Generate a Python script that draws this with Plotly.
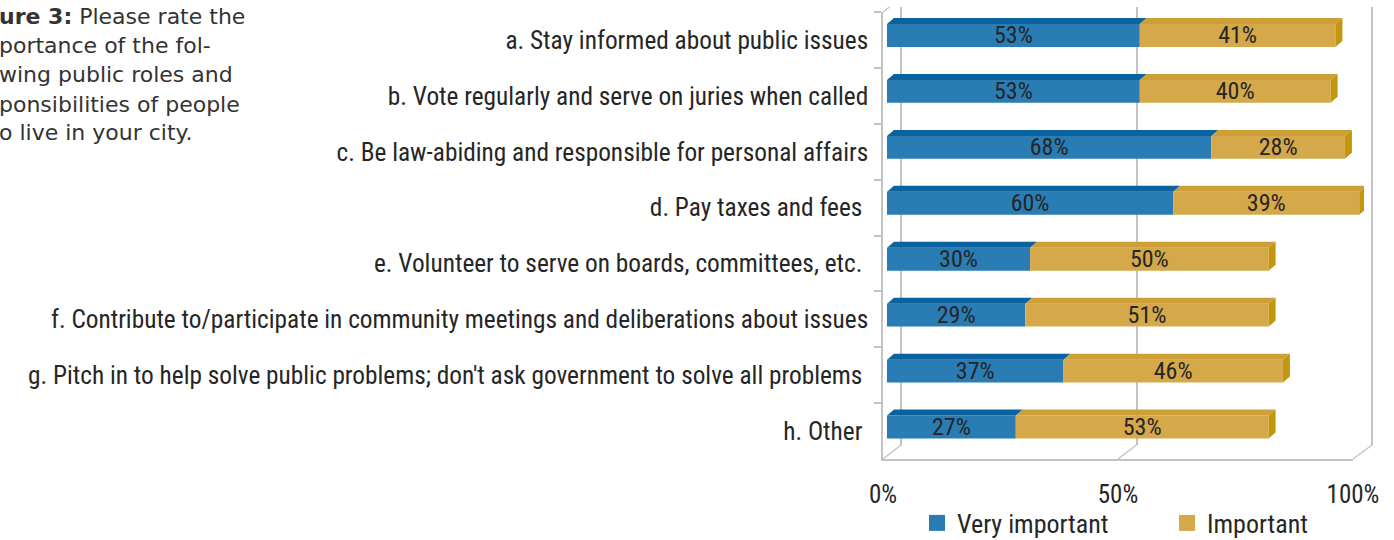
import numpy as np
import plotly.graph_objects as go

# ---- data -------------------------------------------------------------
categories = [
    "a. Stay informed about public issues",
    "b. Vote regularly and serve on juries when called",
    "c. Be law-abiding and responsible for personal affairs",
    "d. Pay taxes and fees\u00a0",
    "e. Volunteer to serve on boards, committees, etc.\u00a0",
    "f. Contribute to/participate in community meetings and deliberations about issues",
    "g. Pitch in to help solve public problems; don't ask government to solve all problems\u00a0",
    "h. Other\u00a0",
]
very_important = [53, 53, 68, 60, 30, 29, 37, 27]
important = [41, 40, 28, 39, 50, 51, 46, 53]
series_names = ["Very important", "Important"]
x_ticks = [0, 50, 100]
x_tick_labels = ["0%", "50%", "100%"]
title_bold = "ure 3:"
title_lines = [
    " Please rate the",
    "portance of the fol-",
    "wing public roles and",
    "ponsibilities of people",
    "o live in your city.",
]

# ---- styling ----------------------------------------------------------
W, H = 1394, 540
NARROW = "Roboto Condensed, Liberation Sans Narrow, DejaVu Sans Condensed, Arial Narrow, sans-serif"
TEXT = "#262626"
GRID = "#c3c3c3"
BLUE, BLUE_TOP = "#2a7db4", "#0a62a0"
GOLD, GOLD_TOP, GOLD_SIDE = "#d5a94a", "#cda037", "#c4960e"
series_colors = [BLUE, GOLD]


def px(x):
    return x / W


def py(y):
    return 1 - y / H


# pixel extents of the three layers of the pseudo-3D box
back_x, back_y = (901, 1372), (7, 445)      # back wall (grid)
bar_x, bar_y = (887, 1364), (7.5, 455)      # bars
front_x, front_y = (883, 1353), (12, 459)   # front floor / left wall

# the back-wall axis gets one unit of slack on each side so that the
# gridlines at 0% and 100% are kept
back_pad = 1.0
back_scale = (back_x[1] - back_x[0]) / 100
back_dom = (back_x[0] - back_pad * back_scale, back_x[1] + back_pad * back_scale)

n = len(categories)
pos = np.arange(n)
bar_w = 0.41
# depth of each bar, in data units of the bar axes
dx = 7 / ((bar_x[1] - bar_x[0]) / 100)
dy = 6 / ((bar_y[1] - bar_y[0]) / n)

fig = go.Figure()

# back wall: only gridlines
fig.add_trace(go.Scatter(x=x_ticks, y=[0] * len(x_ticks), xaxis="x", yaxis="y",
                         mode="markers", marker=dict(opacity=0), showlegend=False,
                         hoverinfo="skip"))

# front faces of the stacked bars
vi = np.array(very_important, dtype=float)
im = np.array(important, dtype=float)
for vals, base, name, col in [(vi, np.zeros(n), series_names[0], BLUE),
                              (im, vi, series_names[1], GOLD)]:
    fig.add_trace(go.Bar(
        x=vals, y=pos, base=base, orientation="h", width=bar_w, name=name,
        marker=dict(color=col, line=dict(width=0)),
        text=[f"{v:.0f}%" for v in vals], textposition="inside",
        insidetextanchor="middle", constraintext="none", textangle=0,
        textfont=dict(family=NARROW, size=24, color=TEXT),
        xaxis="x2", yaxis="y2", hoverinfo="skip", showlegend=False,
    ))


def polys(x0s, x1s, side=False):
    xs, ys = [], []
    for i in range(n):
        yt, yb = pos[i] - bar_w / 2, pos[i] + bar_w / 2
        if side:
            t = x1s[i]
            xs += [t, t + dx, t + dx, t, t, None]
            ys += [yt, yt - dy, yb - dy, yb, yt, None]
        else:
            a, b = x0s[i], x1s[i]
            xs += [a, b, b + dx, a + dx, a, None]
            ys += [yt, yt, yt - dy, yt - dy, yt, None]
    return xs, ys


for (x0s, x1s, col, side) in [(np.zeros(n), vi, BLUE_TOP, False),
                              (vi, vi + im, GOLD_TOP, False),
                              (vi, vi + im, GOLD_SIDE, True)]:
    xs, ys = polys(x0s, x1s, side)
    fig.add_trace(go.Scatter(x=xs, y=ys, mode="lines", fill="toself", fillcolor=col,
                             line=dict(width=0, color=col), xaxis="x2", yaxis="y2",
                             showlegend=False, hoverinfo="skip"))

# legend keys (square swatches)
for name, col in zip(series_names, series_colors):
    fig.add_trace(go.Scatter(x=[None], y=[None], mode="markers", name=name,
                             marker=dict(symbol="square", size=18, color=col,
                                         line=dict(width=0)),
                             xaxis="x2", yaxis="y2", hoverinfo="skip"))

# front floor + left wall carrying the category labels
fig.add_trace(go.Scatter(x=[0] * n, y=categories, xaxis="x3", yaxis="y3",
                         mode="markers", marker=dict(opacity=0), showlegend=False,
                         hoverinfo="skip"))

# floor edges running from the front axis back to the wall
shapes = []
for v in x_ticks:
    fx = front_x[0] + v / 100 * (front_x[1] - front_x[0])
    bx = back_x[0] + v / 100 * (back_x[1] - back_x[0])
    shapes.append(dict(type="line", xref="paper", yref="paper",
                       x0=px(fx), y0=py(front_y[1]), x1=px(bx), y1=py(back_y[1]),
                       line=dict(color=GRID, width=1.5)))
slope = (back_x[0] - front_x[0]) / (front_y[1] - back_y[1])
shapes.append(dict(type="line", xref="paper", yref="paper",
                   x0=px(front_x[0]), y0=py(front_y[0]),
                   x1=px(front_x[0] + slope * (front_y[0] - back_y[0])), y1=py(back_y[0]),
                   line=dict(color=GRID, width=1.5)))

annotations = []
line_y = [17, 46, 75, 104, 132]
for i, (txt, yy) in enumerate(zip(title_lines, line_y)):
    label = f"<b>{title_bold}</b>{txt}" if i == 0 else txt
    annotations.append(dict(text=label, x=0, y=py(yy), xref="paper", yref="paper",
                            xanchor="left", yanchor="middle", showarrow=False,
                            borderpad=0, xshift=-2,
                            font=dict(family="DejaVu Sans, sans-serif", size=22,
                                      color="#333333")))

fig.update_layout(
    width=W, height=H,
    margin=dict(l=0, r=0, t=0, b=0, pad=0, autoexpand=False),
    paper_bgcolor="white", plot_bgcolor="rgba(0,0,0,0)",
    barmode="overlay", showlegend=True,
    xaxis=dict(domain=[px(back_dom[0]), px(back_dom[1])],
               range=[-back_pad, 100 + back_pad],
               tickvals=x_ticks, showticklabels=False, showgrid=True,
               gridcolor=GRID, gridwidth=2, zeroline=False, showline=False,
               anchor="y", fixedrange=True),
    yaxis=dict(domain=[py(back_y[1]), py(back_y[0])], range=[0, 1], visible=False,
               anchor="x"),
    xaxis2=dict(domain=[px(bar_x[0]), px(bar_x[1])], range=[0, 100], visible=False,
                anchor="y2"),
    yaxis2=dict(domain=[py(bar_y[1]), py(bar_y[0])], range=[n - 0.5, -0.5],
                visible=False, anchor="x2"),
    xaxis3=dict(domain=[px(front_x[0]), px(front_x[1])], range=[0, 100],
                tickvals=x_ticks, ticktext=x_tick_labels, showgrid=False,
                zeroline=False, showline=True, linecolor=GRID, linewidth=1.5,
                ticks="outside", ticklen=12, tickcolor="rgba(0,0,0,0)",
                tickfont=dict(family=NARROW, size=25, color=TEXT), anchor="y3"),
    yaxis3=dict(domain=[py(front_y[1]), py(front_y[0])], type="category",
                categoryorder="array", categoryarray=categories,
                range=[n - 0.5, -0.5], tickson="boundaries", ticks="outside",
                ticklen=7, tickcolor=GRID, tickwidth=1.5, showgrid=False,
                showline=True, linecolor=GRID, linewidth=1.5, zeroline=False,
                ticklabelstandoff=8,
                tickfont=dict(family=NARROW, size=25.3, color=TEXT), anchor="x3"),
    legend=dict(orientation="h", x=px(917), xanchor="left", y=py(523),
                yanchor="middle", entrywidth=205, traceorder="normal",
                font=dict(family=NARROW, size=26, color=TEXT),
                bgcolor="rgba(0,0,0,0)"),
    shapes=shapes, annotations=annotations,
)

fig.write_html("out.html")
